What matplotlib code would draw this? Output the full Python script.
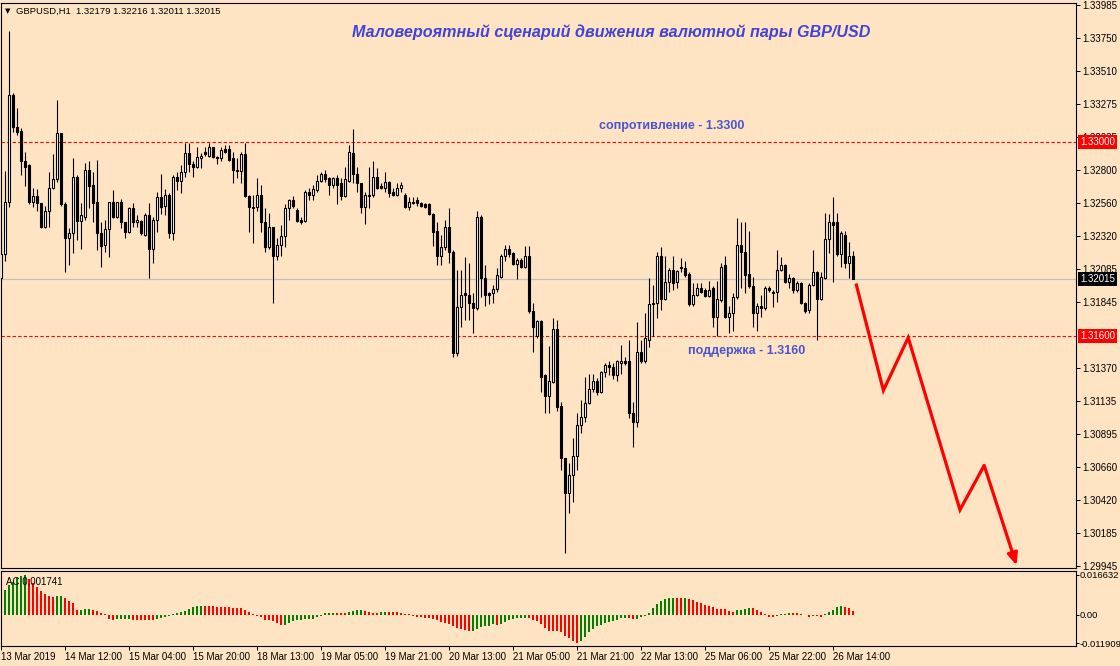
import numpy as np
import matplotlib.pyplot as plt

plt.rcParams['font.family'] = ['Liberation Sans', 'DejaVu Sans']

BG = '#FFE4C4'

# ── GBPUSD H1 candles ────────────────────────────────────────────────────────
OPEN = [
    1.3202, 1.3219, 1.3257, 1.3334, 1.3311, 1.3308, 1.3286, 1.3283, 1.3257, 1.3261,
    1.3256, 1.3239, 1.3250, 1.3267, 1.3273, 1.3306, 1.3255, 1.3231, 1.3234, 1.3275,
    1.3243, 1.3246, 1.3280, 1.3269, 1.3257, 1.3234, 1.3226, 1.3237, 1.3257, 1.3246,
    1.3257, 1.3242, 1.3235, 1.3252, 1.3242, 1.3243, 1.3233, 1.3247, 1.3223, 1.3244,
    1.3260, 1.3254, 1.3262, 1.3234, 1.3275, 1.3272, 1.3278, 1.3292, 1.3284, 1.3282,
    1.3288, 1.3293, 1.3290, 1.3296, 1.3289, 1.3288, 1.3295, 1.3295, 1.3288, 1.3280,
    1.3279, 1.3291, 1.3261, 1.3253, 1.3253, 1.3262, 1.3242, 1.3224, 1.3239, 1.3218,
    1.3226, 1.3232, 1.3252, 1.3258, 1.3251, 1.3244, 1.3243, 1.3264, 1.3262, 1.3265,
    1.3272, 1.3277, 1.3274, 1.3269, 1.3274, 1.3270, 1.3261, 1.3272, 1.3292, 1.3277,
    1.3270, 1.3253, 1.3262, 1.3262, 1.3275, 1.3268, 1.3267, 1.3271, 1.3264, 1.3262,
    1.3267, 1.3262, 1.3253, 1.3257, 1.3258, 1.3256, 1.3255, 1.3255, 1.3248, 1.3236,
    1.3218, 1.3224, 1.3239, 1.3221, 1.3148, 1.3181, 1.3191, 1.3190, 1.3184, 1.3180,
    1.3246, 1.3202, 1.3191, 1.3191, 1.3194, 1.3203, 1.3218, 1.3223, 1.3220, 1.3212,
    1.3215, 1.3210, 1.3218, 1.3178, 1.3160, 1.3171, 1.3132, 1.3117, 1.3127, 1.3165,
    1.3110, 1.3072, 1.3047, 1.3060, 1.3074, 1.3096, 1.3102, 1.3112, 1.3122, 1.3128,
    1.3120, 1.3134, 1.3139, 1.3138, 1.3132, 1.3141, 1.3142, 1.3142, 1.3105, 1.3098,
    1.3149, 1.3142, 1.3157, 1.3183, 1.3184, 1.3218, 1.3187, 1.3199, 1.3208, 1.3199,
    1.3210, 1.3209, 1.3205, 1.3183, 1.3190, 1.3195, 1.3193, 1.3189, 1.3195, 1.3174,
    1.3186, 1.3211, 1.3174, 1.3177, 1.3188, 1.3226, 1.3221, 1.3205, 1.3196, 1.3177,
    1.3182, 1.3180, 1.3195, 1.3192, 1.3192, 1.3208, 1.3211, 1.3199, 1.3202, 1.3193,
    1.3198, 1.3184, 1.3179, 1.3197, 1.3206, 1.3187, 1.3202, 1.3230, 1.3242, 1.3242,
    1.3219, 1.3233, 1.3213, 1.32179,
]
HIGH = [
    1.3236, 1.3279, 1.3380, 1.3335, 1.3324, 1.3310, 1.3293, 1.3284, 1.3267, 1.3266,
    1.3256, 1.3254, 1.3278, 1.3291, 1.3330, 1.3306, 1.3257, 1.3238, 1.3288, 1.3276,
    1.3256, 1.3285, 1.3286, 1.3278, 1.3287, 1.3242, 1.3244, 1.3257, 1.3265, 1.3257,
    1.3259, 1.3242, 1.3253, 1.3256, 1.3247, 1.3244, 1.3249, 1.3256, 1.3246, 1.3264,
    1.3277, 1.3266, 1.3263, 1.3276, 1.3278, 1.3283, 1.3299, 1.3299, 1.3286, 1.3296,
    1.3292, 1.3296, 1.3299, 1.3296, 1.3290, 1.3296, 1.3298, 1.3298, 1.3293, 1.3288,
    1.3293, 1.3299, 1.3262, 1.3262, 1.3274, 1.3269, 1.3252, 1.3249, 1.3239, 1.3231,
    1.3240, 1.3255, 1.3259, 1.3261, 1.3252, 1.3246, 1.3265, 1.3267, 1.3269, 1.3276,
    1.3278, 1.3280, 1.3275, 1.3275, 1.3276, 1.3274, 1.3282, 1.3298, 1.3309, 1.3282,
    1.3270, 1.3264, 1.3282, 1.3286, 1.3281, 1.3270, 1.3278, 1.3272, 1.3267, 1.3270,
    1.3271, 1.3263, 1.3260, 1.3260, 1.3260, 1.3257, 1.3256, 1.3256, 1.3249, 1.3242,
    1.3233, 1.3244, 1.3252, 1.3222, 1.3208, 1.3208, 1.3217, 1.3213, 1.3191, 1.3250,
    1.3247, 1.3211, 1.3192, 1.3197, 1.3209, 1.3219, 1.3226, 1.3226, 1.3221, 1.3216,
    1.3216, 1.3225, 1.3225, 1.3184, 1.3172, 1.3172, 1.3133, 1.3153, 1.3173, 1.3172,
    1.3113, 1.3072, 1.3069, 1.3087, 1.3105, 1.3114, 1.3131, 1.3133, 1.3133, 1.3130,
    1.3135, 1.3141, 1.3142, 1.3141, 1.3143, 1.3154, 1.3145, 1.3157, 1.3113, 1.3170,
    1.3157, 1.3177, 1.3202, 1.3197, 1.3221, 1.3224, 1.3218, 1.3209, 1.3218, 1.3208,
    1.3216, 1.3214, 1.3206, 1.3198, 1.3198, 1.3198, 1.3195, 1.3200, 1.3196, 1.3200,
    1.3213, 1.3218, 1.3182, 1.3191, 1.3245, 1.3242, 1.3242, 1.3236, 1.3203, 1.3184,
    1.3190, 1.3196, 1.3196, 1.3193, 1.3222, 1.3217, 1.3212, 1.3205, 1.3203, 1.3200,
    1.3199, 1.3185, 1.3198, 1.3222, 1.3207, 1.3206, 1.3249, 1.3248, 1.3260, 1.3249,
    1.3236, 1.3236, 1.3228, 1.32216,
]
LOW = [
    1.3198, 1.3214, 1.3253, 1.3307, 1.3305, 1.3276, 1.3268, 1.3255, 1.3253, 1.3250,
    1.3238, 1.3238, 1.3239, 1.3266, 1.3271, 1.3254, 1.3206, 1.3211, 1.3220, 1.3229,
    1.3223, 1.3244, 1.3252, 1.3242, 1.3222, 1.3210, 1.3221, 1.3217, 1.3245, 1.3245,
    1.3238, 1.3231, 1.3234, 1.3239, 1.3239, 1.3233, 1.3232, 1.3202, 1.3213, 1.3235,
    1.3248, 1.3247, 1.3231, 1.3229, 1.3265, 1.3263, 1.3275, 1.3278, 1.3275, 1.3281,
    1.3281, 1.3290, 1.3289, 1.3288, 1.3284, 1.3286, 1.3292, 1.3286, 1.3270, 1.3274,
    1.3270, 1.3260, 1.3235, 1.3227, 1.3250, 1.3235, 1.3221, 1.3223, 1.3184, 1.3215,
    1.3218, 1.3224, 1.3244, 1.3252, 1.3242, 1.3241, 1.3242, 1.3258, 1.3258, 1.3264,
    1.3271, 1.3271, 1.3262, 1.3267, 1.3255, 1.3258, 1.3260, 1.3271, 1.3270, 1.3264,
    1.3249, 1.3241, 1.3252, 1.3260, 1.3266, 1.3266, 1.3264, 1.3260, 1.3261, 1.3261,
    1.3264, 1.3252, 1.3251, 1.3255, 1.3254, 1.3253, 1.3252, 1.3247, 1.3225, 1.3211,
    1.3211, 1.3222, 1.3213, 1.3145, 1.3146, 1.3167, 1.3172, 1.3172, 1.3162, 1.3179,
    1.3188, 1.3182, 1.3183, 1.3184, 1.3192, 1.3202, 1.3214, 1.3217, 1.3211, 1.3201,
    1.3209, 1.3209, 1.3177, 1.3149, 1.3159, 1.3120, 1.3105, 1.3105, 1.3126, 1.3106,
    1.3064, 1.3004, 1.3033, 1.3041, 1.3064, 1.3090, 1.3098, 1.3111, 1.3120, 1.3118,
    1.3119, 1.3131, 1.3132, 1.3129, 1.3128, 1.3133, 1.3139, 1.3101, 1.3080, 1.3095,
    1.3141, 1.3141, 1.3152, 1.3160, 1.3173, 1.3179, 1.3186, 1.3192, 1.3193, 1.3195,
    1.3206, 1.3203, 1.3182, 1.3182, 1.3189, 1.3191, 1.3188, 1.3188, 1.3167, 1.3160,
    1.3185, 1.3173, 1.3162, 1.3164, 1.3187, 1.3195, 1.3191, 1.3195, 1.3167, 1.3164,
    1.3174, 1.3179, 1.3192, 1.3181, 1.3185, 1.3207, 1.3198, 1.3195, 1.3191, 1.3192,
    1.3183, 1.3177, 1.3177, 1.3196, 1.3157, 1.3186, 1.3201, 1.3220, 1.3199, 1.3218,
    1.3210, 1.3209, 1.3202, 1.32011,
]
CLOSE = [
    1.3219, 1.3257, 1.3334, 1.3311, 1.3307, 1.3286, 1.3282, 1.3257, 1.3261, 1.3256,
    1.3239, 1.3250, 1.3267, 1.3273, 1.3306, 1.3255, 1.3231, 1.3234, 1.3275, 1.3243,
    1.3247, 1.3280, 1.3268, 1.3256, 1.3234, 1.3225, 1.3237, 1.3257, 1.3246, 1.3257,
    1.3242, 1.3235, 1.3252, 1.3242, 1.3244, 1.3234, 1.3247, 1.3223, 1.3244, 1.3260,
    1.3253, 1.3262, 1.3234, 1.3275, 1.3272, 1.3278, 1.3292, 1.3284, 1.3282, 1.3289,
    1.3290, 1.3291, 1.3296, 1.3289, 1.3288, 1.3294, 1.3293, 1.3287, 1.3280, 1.3279,
    1.3291, 1.3261, 1.3253, 1.3252, 1.3262, 1.3242, 1.3224, 1.3239, 1.3218, 1.3226,
    1.3232, 1.3252, 1.3258, 1.3254, 1.3243, 1.3242, 1.3264, 1.3262, 1.3266, 1.3272,
    1.3277, 1.3273, 1.3269, 1.3274, 1.3269, 1.3261, 1.3273, 1.3293, 1.3277, 1.3270,
    1.3253, 1.3262, 1.3261, 1.3275, 1.3267, 1.3267, 1.3271, 1.3263, 1.3262, 1.3267,
    1.3269, 1.3253, 1.3257, 1.3256, 1.3256, 1.3254, 1.3253, 1.3248, 1.3235, 1.3218,
    1.3224, 1.3239, 1.3221, 1.3148, 1.3181, 1.3190, 1.3190, 1.3184, 1.3180, 1.3246,
    1.3202, 1.3190, 1.3190, 1.3194, 1.3204, 1.3218, 1.3223, 1.3219, 1.3212, 1.3215,
    1.3210, 1.3218, 1.3178, 1.3167, 1.3171, 1.3131, 1.3117, 1.3128, 1.3165, 1.3109,
    1.3072, 1.3047, 1.3060, 1.3074, 1.3096, 1.3102, 1.3112, 1.3122, 1.3128, 1.3120,
    1.3134, 1.3139, 1.3138, 1.3132, 1.3142, 1.3142, 1.3141, 1.3105, 1.3098, 1.3149,
    1.3142, 1.3159, 1.3183, 1.3184, 1.3218, 1.3187, 1.3199, 1.3208, 1.3198, 1.3207,
    1.3209, 1.3204, 1.3183, 1.3190, 1.3195, 1.3192, 1.3189, 1.3193, 1.3174, 1.3187,
    1.3210, 1.3174, 1.3177, 1.3188, 1.3226, 1.3221, 1.3204, 1.3196, 1.3177, 1.3182,
    1.3180, 1.3195, 1.3193, 1.3191, 1.3208, 1.3211, 1.3199, 1.3202, 1.3193, 1.3198,
    1.3184, 1.3178, 1.3197, 1.3206, 1.3187, 1.3203, 1.3230, 1.3242, 1.3240, 1.3219,
    1.3234, 1.3213, 1.3218, 1.32015,
]

# Accelerator Oscillator, in units of 1e-4
AC_E4 = [
    91.0, 103.6, 124.6, 137.2, 154.0, 163.0, 166.32, 149.8, 133.0, 114.8,
    98.0, 86.8, 78.4, 72.8, 78.4, 79.8, 68.6, 58.8, 50.4, 18.2,
    19.6, 22.4, 25.2, 18.2, 14.0, 8.4, 2.8, -16.8, -22.4, -18.2,
    -17.9, -17.6, -17.4, -21.0, -21.3, -21.7, -22.1, -22.4, -22.7, -18.2,
    -14.0, -9.8, -5.6, 4.2, 8.4, 12.6, 16.8, 23.8, 30.8, 36.4,
    37.1, 36.4, 36.1, 35.7, 33.6, 32.2, 31.9, 30.8, 28.0, 26.6,
    26.3, 21.0, 11.2, 4.2, -7.0, -11.2, -21.0, -23.8, -28.0, -35.0,
    -42.0, -41.3, -35.0, -28.0, -21.0, -20.3, -18.2, -17.5, -16.8, -9.8,
    -4.2, 7.0, 7.4, 7.7, 7.4, 7.1, 7.0, 12.6, 15.4, 18.2,
    19.6, 16.8, 12.6, 8.4, 8.1, 11.2, 11.5, 11.2, 10.9, 10.6,
    7.0, 4.2, 2.8, -4.2, -8.4, -11.2, -12.6, -14.0, -18.2, -22.4,
    -30.8, -35.0, -37.8, -47.6, -56.0, -60.2, -63.0, -70.0, -69.3, -58.8,
    -51.8, -46.2, -45.5, -37.8, -42.0, -39.2, -30.8, -23.8, -16.8, -14.0,
    -13.7, -13.4, -14.0, -23.8, -25.2, -37.8, -56.0, -67.2, -67.5, -67.8,
    -74.2, -88.2, -99.4, -109.2, -119.09, -109.2, -93.8, -71.4, -58.8, -46.2,
    -42.0, -35.0, -30.8, -28.0, -23.8, -14.0, -13.7, -14.0, -16.8, -16.1,
    -11.2, -4.2, 7.0, 28.0, 44.8, 56.0, 65.8, 70.0, 70.4, 70.0,
    69.7, 70.3, 65.8, 61.6, 54.6, 47.6, 40.6, 36.4, 32.2, 25.2,
    23.8, 23.5, 16.8, 12.6, 19.6, 19.9, 23.8, 28.0, 27.7, 19.6,
    12.6, 4.2, -8.4, -8.7, -4.2, 2.8, 4.2, 7.7, 7.0, 5.6,
    1.4, -2.8, -8.4, -4.2, -4.5, -8.4, 2.8, 12.6, 19.6, 32.2,
    35.0, 32.2, 26.6, 17.41,
]

RESISTANCE = 1.3300
SUPPORT = 1.3160
LAST_PRICE = 1.32015

PRICE_TICKS = [1.33985, 1.33750, 1.33510, 1.33275, 1.33035, 1.32800, 1.32560,
               1.32320, 1.32085, 1.31845, 1.31370, 1.31135, 1.30895,
               1.30660, 1.30420, 1.30185, 1.29945]
AC_TICKS = [0.016632, 0.0, -0.011909]
AC_TICK_LABELS = ['0.016632', '0.00', '-0.011909']

TIME_TICK_BARS = list(range(0, 209, 16))
TIME_LABELS = ['13 Mar 2019', '14 Mar 12:00', '15 Mar 04:00', '15 Mar 20:00',
               '18 Mar 13:00', '19 Mar 05:00', '19 Mar 21:00', '20 Mar 13:00',
               '21 Mar 05:00', '21 Mar 21:00', '22 Mar 13:00', '25 Mar 06:00',
               '25 Mar 22:00', '26 Mar 14:00']

# hand-drawn bearish scenario (bar position, price)
SCENARIO_BARS = [213.75, 220.6, 226.8, 239.75, 245.8, 253.9]
SCENARIO_PRICES = [1.3198, 1.3121, 1.3159, 1.3035, 1.3067, 1.2995]

# ── figure ───────────────────────────────────────────────────────────────────
W, H = 1120, 666
fig = plt.figure(figsize=(W / 100, H / 100), dpi=100, facecolor=BG)
ax = fig.add_axes([0.5 / W, (H - 568) / H, 1075.2 / W, 565.3 / H], facecolor=BG)
ax2 = fig.add_axes([0.5 / W, (H - 646) / H, 1075.2 / W, 75.3 / H], facecolor=BG,
                   sharex=ax)

o = np.array(OPEN)
h = np.array(HIGH)
l = np.array(LOW)
c = np.array(CLOSE)
x = np.arange(len(o))

# reference lines
ax.axhline(RESISTANCE, color='red', lw=0.8, dashes=(3, 2), zorder=1)
ax.axhline(SUPPORT, color='red', lw=0.8, dashes=(3, 2), zorder=1)
ax.axhline(LAST_PRICE, color='#C0C0C0', lw=0.9, zorder=1)

# candles
ax.vlines(x, l, h, color='black', lw=0.8, zorder=2)
body_col = np.where(c >= o, 'white', 'black')
ax.bar(x, c - o, bottom=o, width=0.58, color=body_col, edgecolor='black',
       linewidth=0.8, zorder=3)

# scenario arrow
ax.plot(SCENARIO_BARS[:-1], SCENARIO_PRICES[:-1], color='red', lw=2.3,
        solid_joinstyle='miter', solid_capstyle='butt', zorder=4, clip_on=False)
ax.annotate('', xy=(SCENARIO_BARS[-1], SCENARIO_PRICES[-1]),
            xytext=(SCENARIO_BARS[-2], SCENARIO_PRICES[-2]),
            arrowprops=dict(arrowstyle='-|>,head_length=0.7,head_width=0.3',
                            color='red', lw=2.3, shrinkA=0, shrinkB=0),
            annotation_clip=False, zorder=4)

ax.set_xlim(-0.125, 268.675)
ax.set_ylim(1.299314, 1.340016)

ax.yaxis.tick_right()
ax.set_yticks(PRICE_TICKS)
ax.set_yticklabels([f'{v:.5f}' for v in PRICE_TICKS])
ax.tick_params(axis='y', direction='out', length=3, width=0.72, pad=2,
               labelsize=7, colors='black')
ax.tick_params(axis='x', bottom=False, labelbottom=False)
for s in ax.spines.values():
    s.set_linewidth(0.8)

# price boxes on the scale
for val, fc in [(RESISTANCE, 'red'), (SUPPORT, 'red'), (LAST_PRICE, 'black')]:
    ax.annotate(f'{val:.5f}', xy=(1, val), xycoords=ax.get_yaxis_transform(),
                xytext=(3.3, 0), textcoords='offset points', ha='left', va='center',
                fontsize=7, color='white', annotation_clip=False, zorder=10,
                bbox=dict(boxstyle='square,pad=0.2', fc=fc, ec='none'))

# text labels
ax.text(167.75, 1.33114, 'сопротивление - 1.3300', ha='center', va='center',
        fontsize=9, fontweight='bold', color='#4C55CF')
ax.text(186.5, 1.31494, 'поддержка - 1.3160', ha='center', va='center',
        fontsize=9, fontweight='bold', color='#4C55CF')
fig.text(611 / W, 1 - 32 / H,
         'Маловероятный сценарий движения валютной пары GBP/USD',
         ha='center', va='center', fontsize=11.6, fontweight='bold',
         style='italic', color='#4343D6')
fig.text(8 / W, 1 - 11 / H, '▼', ha='center', va='center', fontsize=5,
         family='DejaVu Sans')
fig.text(16.5 / W, 1 - 11 / H, 'GBPUSD,H1  1.32179 1.32216 1.32011 1.32015',
         ha='left', va='center', fontsize=6.8)

# ── AC panel ─────────────────────────────────────────────────────────────────
ac = np.array(AC_E4) * 1e-4
ac_col = ['#008000'] + ['#008000' if ac[i] > ac[i - 1] else '#FF0000'
                        for i in range(1, len(ac))]
ax2.bar(x, ac, width=0.7, color=ac_col, linewidth=0)
ax2.set_ylim(-0.01308, 0.01839)
ax2.yaxis.tick_right()
ax2.set_yticks(AC_TICKS)
ax2.set_yticklabels(AC_TICK_LABELS)
ax2.tick_params(axis='y', direction='out', length=2, width=0.72, pad=0.8,
                labelsize=6.8)
ax2.set_xticks(TIME_TICK_BARS)
ax2.set_xticklabels(TIME_LABELS)
for lbl in ax2.get_xticklabels():
    lbl.set_ha('left')
ax2.tick_params(axis='x', direction='out', length=3, width=0.72, pad=1.5,
                labelsize=7)
for s in ax2.spines.values():
    s.set_linewidth(0.8)
ax2.text(6 / 1075.2, 1 - 11 / 75.3, 'AC 0.001741', transform=ax2.transAxes,
         ha='left', va='center', fontsize=7)

fig.savefig('out.png', dpi=100, facecolor=BG)
